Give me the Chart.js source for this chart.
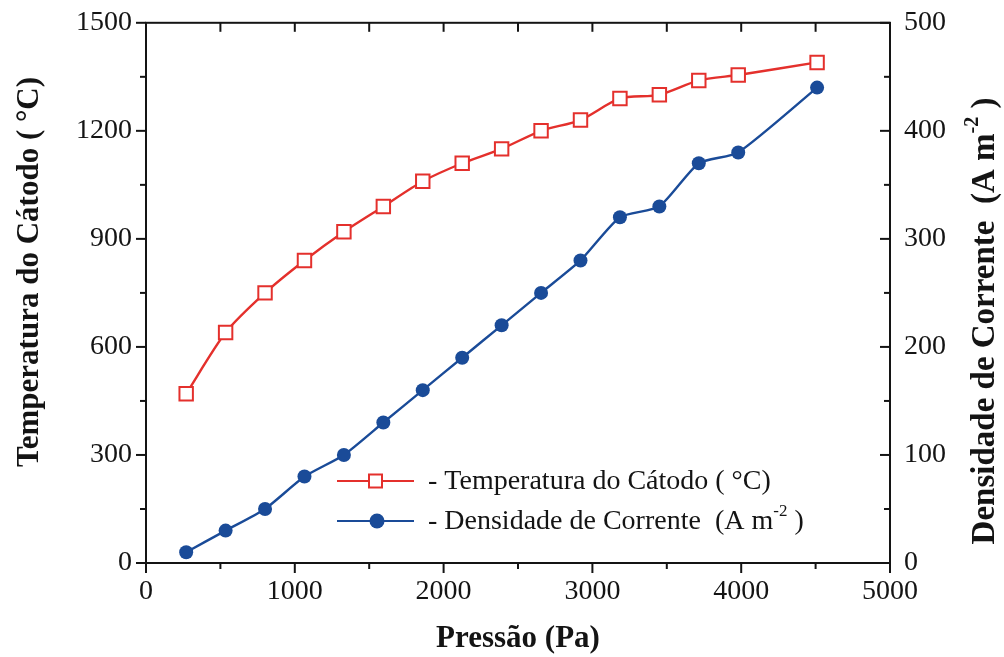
<!DOCTYPE html>
<html>
<head>
<meta charset="utf-8">
<script src="https://cdn.jsdelivr.net/npm/chart.js@4.4.1/dist/chart.umd.min.js"></script>
<style>
  html, body { margin: 0; background: #fff; }
  #wrap { width: 1004px; height: 657px; }
</style>
</head>
<body>
<div id="wrap"><canvas id="chart"></canvas></div>
<script>
// Cathode temperature and current density vs. pressure, two y axes.

const pressure = [270, 535, 800, 1065, 1330, 1595, 1860, 2125, 2390, 2655, 2920, 3185, 3450, 3715, 3980, 4510];
const temperature = [470, 640, 750, 840, 920, 990, 1060, 1110, 1150, 1200, 1230, 1290, 1300, 1340, 1355, 1390];
const density = [10, 30, 50, 80, 100, 130, 160, 190, 220, 250, 280, 320, 330, 370, 380, 440];

const xTicks = [0, 1000, 2000, 3000, 4000, 5000];
const tempTicks = [0, 300, 600, 900, 1200, 1500];
const densTicks = [0, 100, 200, 300, 400, 500];

const RED = "#e4302c";
const BLUE = "#1a4b98";
const INK = "#141414";
const SERIF = "'Liberation Serif', 'Times New Roman', serif";

const pts = (ys) => pressure.map((x, i) => ({ x, y: ys[i] }));
const setTicks = (arr) => (s) => { s.ticks = arr.map((value) => ({ value })); };

function line(ctx, x1, y1, x2, y2) {
  ctx.beginPath();
  ctx.moveTo(x1, y1);
  ctx.lineTo(x2, y2);
  ctx.stroke();
}

// Text made of runs, some of them superscript. Drawn left to right from (x, y).
function rich(ctx, runs, x, y, size, weight) {
  let cx = x;
  runs.forEach(([t, sup]) => {
    const fs = sup ? Math.round(size * 0.6) : size;
    ctx.font = `${weight} ${fs}px ${SERIF}`;
    ctx.fillText(t, cx, sup ? y - size * 0.38 : y);
    cx += ctx.measureText(t).width;
  });
  return cx - x;
}
function richWidth(ctx, runs, size, weight) {
  return runs.reduce((w, [t, sup]) => {
    ctx.font = `${weight} ${sup ? Math.round(size * 0.6) : size}px ${SERIF}`;
    return w + ctx.measureText(t).width;
  }, 0);
}
function richRotated(ctx, runs, cx, cy, size) {
  const w = richWidth(ctx, runs, size, "bold");
  ctx.save();
  ctx.translate(cx, cy);
  ctx.rotate(-Math.PI / 2);
  ctx.textBaseline = "middle";
  rich(ctx, runs, -w / 2, 0, size, "bold");
  ctx.restore();
}

const framePlugin = {
  id: "frame",
  afterDraw(chart) {
    const { ctx, chartArea: a, scales } = chart;
    ctx.save();
    ctx.strokeStyle = INK;
    ctx.fillStyle = INK;
    ctx.lineWidth = 2;
    ctx.strokeRect(a.left, a.top, a.right - a.left, a.bottom - a.top);

    // x: ticks out at the bottom, in at the top
    xTicks.forEach((v, i) => {
      const x = scales.x.getPixelForValue(v);
      line(ctx, x, a.bottom, x, a.bottom + 10);
      line(ctx, x, a.top, x, a.top + 9);
      if (i < xTicks.length - 1) {
        const m = scales.x.getPixelForValue((v + xTicks[i + 1]) / 2);
        line(ctx, m, a.bottom, m, a.bottom + 6);
        line(ctx, m, a.top, m, a.top + 9);
      }
    });
    // left: out
    tempTicks.forEach((v, i) => {
      const y = scales.y.getPixelForValue(v);
      line(ctx, a.left - 10, y, a.left, y);
      if (i < tempTicks.length - 1) {
        const m = scales.y.getPixelForValue((v + tempTicks[i + 1]) / 2);
        line(ctx, a.left - 6, m, a.left, m);
      }
    });
    // right: in
    densTicks.forEach((v, i) => {
      const y = scales.y1.getPixelForValue(v);
      line(ctx, a.right - 10, y, a.right, y);
      if (i < densTicks.length - 1) {
        const m = scales.y1.getPixelForValue((v + densTicks[i + 1]) / 2);
        line(ctx, a.right - 6, m, a.right, m);
      }
    });

    // axis titles
    ctx.textBaseline = "middle";
    ctx.textAlign = "center";
    ctx.font = `bold 31px ${SERIF}`;
    ctx.fillText("Pressão (Pa)", (a.left + a.right) / 2, 639);
    ctx.textAlign = "left";
    richRotated(ctx, [["Temperatura do Cátodo ( °C)"]], 30, 272, 31);
    richRotated(ctx, [["Densidade de Corrente  (A m"], ["-2", true], [" )"]], 985, 321, 33);

    // legend
    const rows = [
      { y: 481, color: RED, square: true, runs: [["- Temperatura do Cátodo ( °C)"]] },
      { y: 521, color: BLUE, square: false, runs: [["- Densidade de Corrente  (A m"], ["-2", true], [" )"]] },
    ];
    rows.forEach((r) => {
      ctx.strokeStyle = r.color;
      ctx.lineWidth = 2.2;
      line(ctx, 337, r.y, 414, r.y);
      if (r.square) {
        ctx.fillStyle = "#fff";
        ctx.fillRect(369, r.y - 6.5, 13, 13);
        ctx.lineWidth = 2;
        ctx.strokeRect(369, r.y - 6.5, 13, 13);
      } else {
        ctx.fillStyle = r.color;
        ctx.beginPath();
        ctx.arc(377, r.y, 7.5, 0, Math.PI * 2);
        ctx.fill();
      }
      ctx.fillStyle = INK;
      ctx.textBaseline = "middle";
      rich(ctx, r.runs, 428, r.y + 1, 28, "normal");
    });
    ctx.restore();
  },
};

const tickFont = { family: SERIF, size: 28 };
const plain = (v) => String(v);

new Chart(document.getElementById("chart"), {
  type: "line",
  data: {
    datasets: [
      {
        label: "Temperatura do Cátodo (°C)",
        data: pts(temperature),
        yAxisID: "y",
        borderColor: RED,
        borderWidth: 2.4,
        tension: 0.25,
        pointStyle: "rect",
        pointRadius: 9.5,
        pointBackgroundColor: "#fff",
        pointBorderColor: RED,
        pointBorderWidth: 2,
      },
      {
        label: "Densidade de Corrente (A m-2)",
        data: pts(density),
        yAxisID: "y1",
        borderColor: BLUE,
        borderWidth: 2.4,
        tension: 0.2,
        pointStyle: "circle",
        pointRadius: 7,
        pointBackgroundColor: BLUE,
        pointBorderColor: BLUE,
        pointBorderWidth: 0,
      },
    ],
  },
  options: {
    responsive: true,
    maintainAspectRatio: false,
    animation: false,
    layout: { padding: { top: 15 } },
    plugins: { legend: { display: false }, tooltip: { enabled: false } },
    scales: {
      x: {
        type: "linear",
        min: 0,
        max: 5000,
        afterBuildTicks: setTicks(xTicks),
        afterFit: (s) => { s.height = 94; },
        ticks: { color: INK, font: tickFont, padding: 4, maxRotation: 0, callback: plain },
        grid: { display: false },
        border: { display: false },
      },
      y: {
        position: "left",
        min: 0,
        max: 1500,
        afterBuildTicks: setTicks(tempTicks),
        afterFit: (s) => { s.width = 146; },
        ticks: { color: INK, font: tickFont, padding: 6, callback: plain },
        grid: { display: false },
        border: { display: false },
      },
      y1: {
        position: "right",
        min: 0,
        max: 500,
        afterBuildTicks: setTicks(densTicks),
        afterFit: (s) => { s.width = 114; },
        ticks: { color: INK, font: tickFont, padding: 6, callback: plain },
        grid: { display: false },
        border: { display: false },
      },
    },
  },
  plugins: [framePlugin],
});
</script>
</body>
</html>
